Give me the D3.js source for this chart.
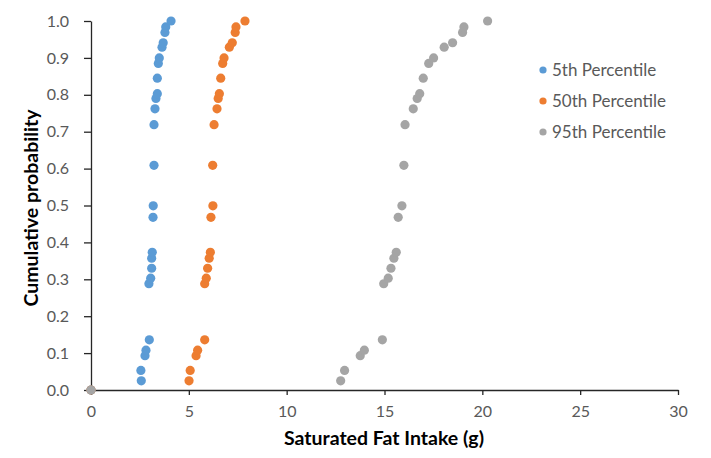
<!DOCTYPE html>
<html><head><meta charset="utf-8">
<script src="https://cdn.jsdelivr.net/npm/d3@7"></script>
<style>body{margin:0;background:#fff}svg{display:block}text{font-family:Lato,"Open Sans",sans-serif}</style>
</head><body><svg id="c" width="711" height="458"></svg>
<script>
const probs = [0, 0.025, 0.053, 0.093, 0.108, 0.136, 0.288, 0.303, 0.330, 0.357, 0.373, 0.468, 0.499, 0.609, 0.719, 0.762, 0.790, 0.803, 0.845, 0.885, 0.900, 0.929, 0.941, 0.969, 0.984, 1.0];
const p5  = [0, 2.57, 2.55, 2.76, 2.81, 2.98, 2.96, 3.05, 3.10, 3.10, 3.13, 3.17, 3.18, 3.22, 3.22, 3.27, 3.32, 3.39, 3.39, 3.44, 3.49, 3.63, 3.69, 3.78, 3.82, 4.09];
const p50 = [0, 5.01, 5.07, 5.37, 5.45, 5.81, 5.81, 5.89, 5.96, 6.04, 6.10, 6.13, 6.23, 6.22, 6.29, 6.44, 6.50, 6.56, 6.63, 6.73, 6.80, 7.07, 7.22, 7.37, 7.41, 7.87];
const p95 = [0, 12.76, 12.96, 13.76, 13.97, 14.89, 14.96, 15.19, 15.33, 15.48, 15.60, 15.70, 15.89, 15.99, 16.05, 16.47, 16.67, 16.80, 16.98, 17.26, 17.51, 18.05, 18.48, 18.99, 19.06, 20.27];
const seriesNames = ["5th Percentile", "50th Percentile", "95th Percentile"];
const seriesColors = ["#5B9BD5", "#ED7D31", "#A5A5A5"];
const xTicks = [0, 5, 10, 15, 20, 25, 30];
const yTicks = [0, 0.1, 0.2, 0.3, 0.4, 0.5, 0.6, 0.7, 0.8, 0.9, 1.0];

const svg = d3.select("#c");
const x = d3.scaleLinear().domain([0, 30]).range([91, 678]);
const y = d3.scaleLinear().domain([0, 1]).range([390, 21]);

const xAxis = svg.append("g").attr("transform", "translate(0,390)")
  .call(d3.axisBottom(x).tickValues(xTicks).tickSize(5).tickSizeOuter(0).tickPadding(11).tickFormat(d3.format("d")));
const yAxis = svg.append("g").attr("transform", "translate(91,0)")
  .call(d3.axisLeft(y).tickValues(yTicks).tickSize(7).tickSizeOuter(0).tickPadding(15).tickFormat(d3.format(".1f")));
[xAxis, yAxis].forEach(g => {
  g.select(".domain").attr("stroke", "#262626").attr("stroke-width", 1.3);
  g.selectAll(".tick line").attr("stroke", "#262626").attr("stroke-width", 1.3);
  g.selectAll(".tick text").attr("fill", "#595959").style("font-size", "16px").style("font-family", "Lato, sans-serif");
});

const allSeries = [p5, p50, p95];
allSeries.forEach((vals, si) => {
  svg.append("g").selectAll("circle").data(vals.map((v, i) => [v, probs[i]]))
    .join("circle")
    .attr("cx", d => x(d[0])).attr("cy", d => y(d[1])).attr("r", 4.6)
    .attr("fill", seriesColors[si]);
});

svg.append("text").attr("x", 384).attr("y", 445).attr("text-anchor", "middle")
  .style("font-size", "19.5px").style("font-weight", "bold").attr("fill", "#000")
  .text("Saturated Fat Intake (g)");
svg.append("text").attr("transform", "translate(38,208) rotate(-90)").attr("text-anchor", "middle")
  .style("font-size", "19.5px").style("font-weight", "bold").attr("fill", "#000")
  .text("Cumulative probability");

const leg = svg.append("g");
seriesNames.forEach((n, i) => {
  const yy = 70 + i * 31;
  leg.append("circle").attr("cx", 543).attr("cy", yy).attr("r", 3.6).attr("fill", seriesColors[i]);
  leg.append("text").attr("x", 552).attr("y", yy + 6).attr("fill", "#595959").style("font-size", "17px").text(n);
});
</script></body></html>
